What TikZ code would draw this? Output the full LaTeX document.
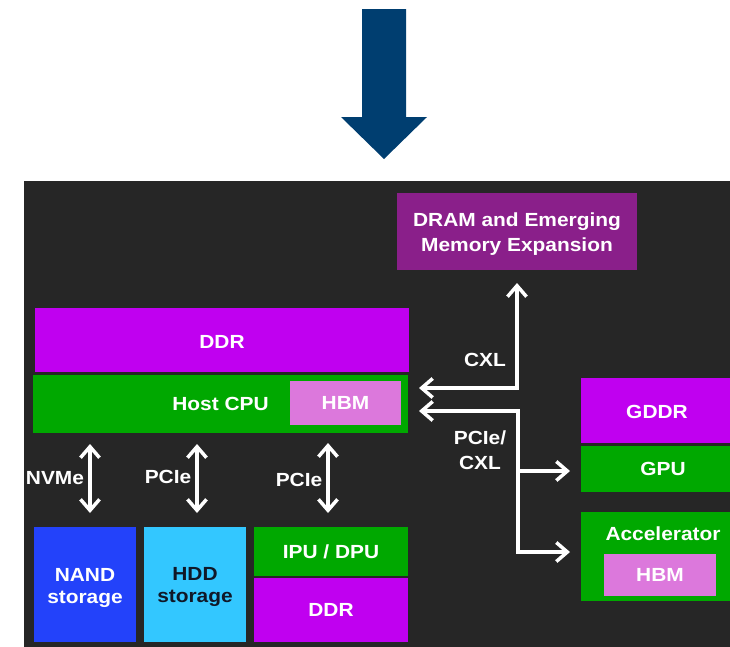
\documentclass[tikz,border=0pt]{standalone}
\usepackage{fontspec}
\setmainfont{Liberation Sans}[FakeStretch=1.1]
\usetikzlibrary{arrows.meta}

\definecolor{panel}{HTML}{262626}
\definecolor{navyarrow}{HTML}{003E70}
\definecolor{plum}{HTML}{8A1F8A}
\definecolor{violet}{HTML}{C000F0}
\definecolor{chipgreen}{HTML}{00A800}
\definecolor{orchid}{HTML}{DC78DC}
\definecolor{nandblue}{HTML}{2342FA}
\definecolor{hddcyan}{HTML}{33C7FF}
\definecolor{hddtext}{HTML}{101828}

\tikzset{
  box/.style={rectangle, inner sep=0pt, draw=none, text=white,
    font=\fontsize{19}{22}\selectfont\bfseries, align=center},
  lbl/.style={inner sep=0pt, text=white, font=\fontsize{19}{25}\selectfont\bfseries, align=center},
  wbarb/.tip={Straight Barb[length=11pt,width=19pt,line width=3.5pt]},
  wire/.style={draw=white, line width=3.5pt, arrows={wbarb-wbarb}},
  wireone/.style={draw=white, line width=3.5pt, arrows={-wbarb}},
}

\begin{document}
\begin{tikzpicture}[x=1pt,y=-1pt]
\useasboundingbox (0,0) rectangle (730,646);
\clip (0,0) rectangle (730,646);

% big downward arrow above the panel
\fill[navyarrow] (362,9) -- (406,9) -- (406,117) -- (427,117) -- (384,159)
  -- (341,117) -- (362,117) -- cycle;

% dark panel
\fill[panel] (24,181) rectangle (745,660);

% memory expansion
\node[box, fill=plum, minimum width=240pt, minimum height=77pt] (dram) at (517,231.5) {};
\node[lbl] (dramtxt) at (517,234) {DRAM and Emerging\\Memory Expansion};

% host side
\node[box, fill=violet, minimum width=374pt, minimum height=64pt] (ddr) at (222,340) {};
\node[lbl] (ddrtxt) at (222,342) {DDR};
\node[box, fill=chipgreen, minimum width=375pt, minimum height=58pt] (cpu) at (220.5,404) {Host CPU};
\node[box, fill=orchid, minimum width=111pt, minimum height=44pt] (hbm) at (345.5,403) {HBM};

% GPU and accelerator
\node[box, fill=violet, minimum width=164pt, minimum height=65pt] (gddr) at (663,410.5) {};
\node[lbl] (gddrtxt) at (657,412) {GDDR};
\node[box, fill=chipgreen, minimum width=164pt, minimum height=46pt] (gpu) at (663,469) {GPU};
\node[box, fill=chipgreen, minimum width=164pt, minimum height=89pt] (acc) at (663,556.5) {};
\node[lbl] (acctxt) at (663,534) {Accelerator};
\node[box, fill=orchid, minimum width=112pt, minimum height=42pt] (hbmacc) at (660,575) {HBM};

% storage and offload devices
\node[box, fill=nandblue, minimum width=102pt, minimum height=115pt] (nand) at (85,584.5) {};
\node[lbl, font=\fontsize{19}{22}\selectfont\bfseries] (nandtxt) at (85,587.5) {NAND\\storage};
\node[box, fill=hddcyan, minimum width=102pt, minimum height=115pt] (hdd) at (195,584.5) {};
\node[lbl, text=hddtext, font=\fontsize{19}{22}\selectfont\bfseries] (hddtxt) at (195,586.5) {HDD\\storage};
\node[box, fill=chipgreen, minimum width=154pt, minimum height=49pt] (ipu) at (331,551.5) {IPU / DPU};
\node[box, fill=violet, minimum width=154pt, minimum height=64pt] (ddrb) at (331,610) {DDR};

% CXL link to memory expansion
\coordinate (cxlL) at (419,388);
\coordinate (cxlT) at (517,283);
\draw[wire] (cxlL) -| (cxlT);
\node[lbl] (cxl) at (485,360) {CXL};

% PCIe/CXL link to GPU and accelerator
\coordinate (pcL) at (419,411);
\coordinate (pcB) at (518,552);
\coordinate (pcAcc) at (570,552);
\coordinate (pcJ) at (518,471);
\coordinate (pcGpu) at (570,471);
\draw[wire] (pcL) -| (pcB) -- (pcAcc);
\draw[wireone] (pcJ) -- (pcGpu);
\node[lbl] (pcie) at (480,450) {PCIe/\\CXL};

% vertical links to storage and IPU
\coordinate (a1t) at (90,444);  \coordinate (a1b) at (90,513);
\coordinate (a2t) at (197,444); \coordinate (a2b) at (197,513);
\coordinate (a3t) at (328,443); \coordinate (a3b) at (328,513);
\draw[wire] (a1t) -- (a1b);
\draw[wire] (a2t) -- (a2b);
\draw[wire] (a3t) -- (a3b);
\node[lbl] (nvme) at (55,478) {NVMe};
\node[lbl] (pcie1) at (168,477) {PCIe};
\node[lbl] (pcie2) at (299,480) {PCIe};
\end{tikzpicture}
\end{document}
